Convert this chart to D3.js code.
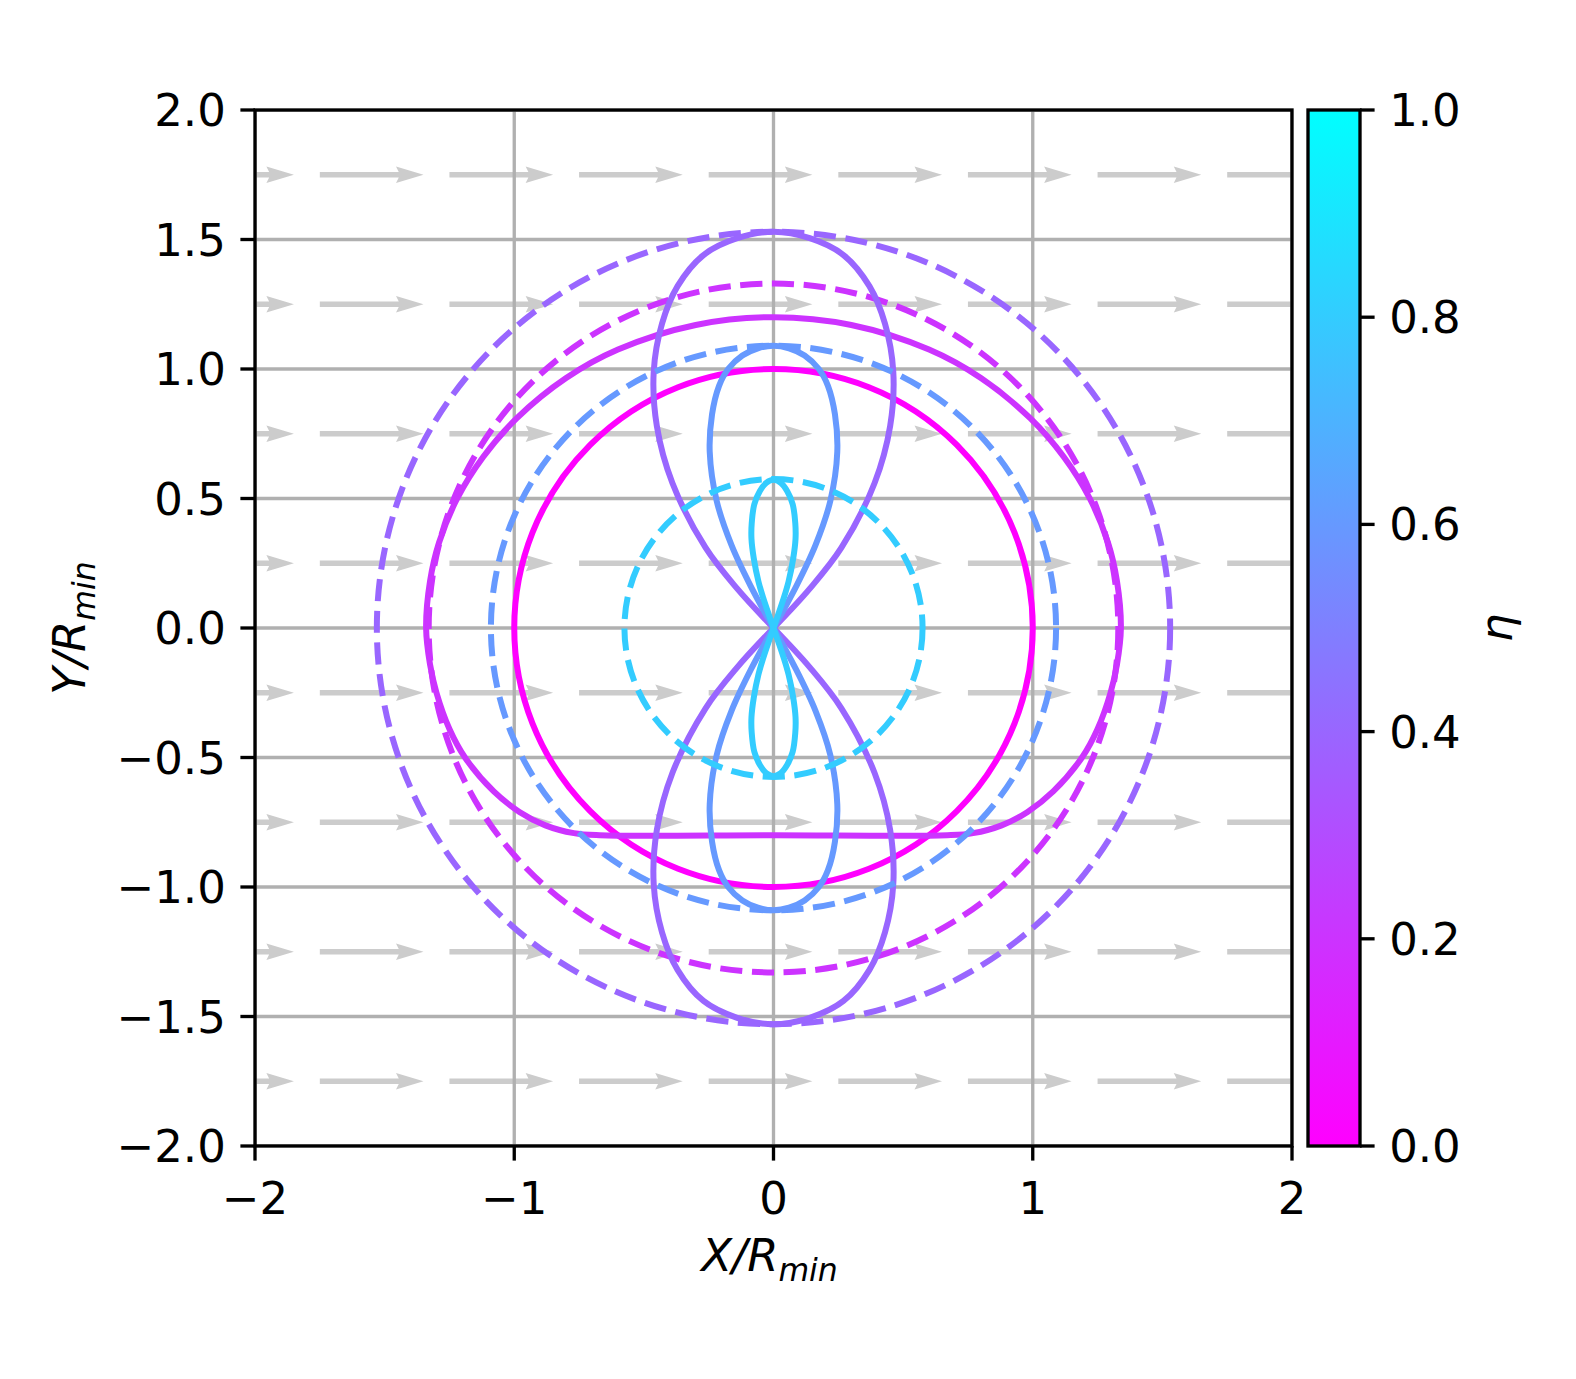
<!DOCTYPE html>
<html>
<head>
<meta charset="utf-8">
<script src="https://cdn.jsdelivr.net/npm/d3@7"></script>
<style>
  body { margin: 0; background: #ffffff; }
  text { font-family: "DejaVu Sans", sans-serif; fill: #000; }
</style>
</head>
<body>
<div id="grafico"></div>
<script>
// Datos (unidades de R_min)
const etaCirculoSolido = 0.0;
const radioCirculoSolido = 1.0;

// Círculos discontinuos para cada eta
const etaDiscontinuos = [0.2, 0.4, 0.6, 0.8];
const radiosDiscontinuos = [1.33, 1.53, 1.09, 0.575];

// Contorno sólido eta = 0.2: mitad izquierda, de arriba hacia abajo
const etaContorno = 0.2;
const contornoMitad = [
  [0, 1.2], [-0.3, 1.17], [-0.6, 1.075], [-0.8, 0.965], [-0.99, 0.81],
  [-1.12, 0.66], [-1.22, 0.5], [-1.29, 0.33], [-1.325, 0.18], [-1.34, 0],
  [-1.325, -0.14], [-1.3, -0.25], [-1.25, -0.39], [-1.19, -0.5],
  [-1.08, -0.63], [-0.98, -0.71], [-0.88, -0.762], [-0.77, -0.792],
  [-0.67, -0.8], [0, -0.8]
];

// Lóbulos: cuarto superior derecho, desde el origen hasta la punta
const etaLobulos = [0.4, 0.6, 0.8];
const loboEta04 = [
  [0, 0], [0.14, 0.152], [0.262, 0.31], [0.39, 0.56], [0.45, 0.78],
  [0.462, 0.99], [0.43, 1.175], [0.37, 1.32], [0.27, 1.44],
  [0.14, 1.505], [0, 1.53]
];
const loboEta06 = [
  [0, 0], [0.088, 0.162], [0.162, 0.32], [0.219, 0.49], [0.246, 0.68],
  [0.237, 0.825], [0.21, 0.935], [0.175, 1.0], [0.12, 1.052],
  [0.06, 1.08], [0, 1.09]
];
const loboEta08 = [
  [0, 0], [0.04, 0.117], [0.058, 0.179], [0.076, 0.268], [0.085, 0.345],
  [0.084, 0.405], [0.074, 0.478], [0.053, 0.528], [0.028, 0.56], [0, 0.572]
];

// Campo de flechas (cola de cada flecha)
const flechasX = [-2.25, -1.75, -1.25, -0.75, -0.25, 0.25, 0.75, 1.25, 1.75];
const flechasY = [1.75, 1.25, 0.75, 0.25, -0.25, -0.75, -1.25, -1.75];
const largoFlecha = 0.4;

// Marcas de los ejes
const ticksX = [-2, -1, 0, 1, 2];
const ticksY = [-2, -1.5, -1, -0.5, 0, 0.5, 1, 1.5, 2];
const ticksBarra = [0, 0.2, 0.4, 0.6, 0.8, 1.0];

// Dimensiones
const ancho = 1576, alto = 1379;
const izq = 255, der = 1292, arriba = 110, abajo = 1146;
const barraIzq = 1308, barraDer = 1360;
const fuente = 45;
const grosorLinea = 6;
const grosorEje = 3.33;
const largoTick = 14.6;

const svg = d3.select("#grafico")
  .append("svg")
  .attr("width", ancho)
  .attr("height", alto);

svg.append("rect").attr("width", ancho).attr("height", alto).attr("fill", "#ffffff");

const x = d3.scaleLinear().domain([-2, 2]).range([izq, der]);
const y = d3.scaleLinear().domain([-2, 2]).range([abajo, arriba]);
const escalaBarra = d3.scaleLinear().domain([0, 1]).range([abajo, arriba]);

// Mapa de color "cool" (magenta -> cian)
const colorEta = d3.scaleLinear().domain([0, 1]).range(["#ff00ff", "#00ffff"]);

function formatoMenos(v, dec) {
  return v.toFixed(dec).replace("-", "\u2212");
}

// Recorte al área de dibujo
const defs = svg.append("defs");
defs.append("clipPath").attr("id", "recorte")
  .append("rect")
  .attr("x", izq).attr("y", arriba)
  .attr("width", der - izq).attr("height", abajo - arriba);

const area = svg.append("g").attr("clip-path", "url(#recorte)");

// Flechas grises
const anchoAsta = 5.5;
const anchoCabeza = 3 * anchoAsta;
const largoCabeza = 5 * anchoAsta;
const ejeCabeza = 4.5 * anchoAsta;

flechasY.forEach((fy) => {
  flechasX.forEach((fx) => {
    const tx = x(fx);
    const px = x(fx + largoFlecha);
    const ty = y(fy);
    const puntos = [
      [tx, ty - anchoAsta / 2],
      [px - ejeCabeza, ty - anchoAsta / 2],
      [px - largoCabeza, ty - anchoCabeza / 2],
      [px, ty],
      [px - largoCabeza, ty + anchoCabeza / 2],
      [px - ejeCabeza, ty + anchoAsta / 2],
      [tx, ty + anchoAsta / 2]
    ];
    area.append("polygon")
      .attr("points", puntos.map(p => p.join(",")).join(" "))
      .attr("fill", "#cccccc");
  });
});

// Cuadrícula
ticksX.forEach((t) => {
  area.append("line")
    .attr("x1", x(t)).attr("x2", x(t))
    .attr("y1", arriba).attr("y2", abajo)
    .attr("stroke", "#b0b0b0").attr("stroke-width", grosorEje);
});
ticksY.forEach((t) => {
  area.append("line")
    .attr("x1", izq).attr("x2", der)
    .attr("y1", y(t)).attr("y2", y(t))
    .attr("stroke", "#b0b0b0").attr("stroke-width", grosorEje);
});

const linea = d3.line()
  .x(d => x(d[0]))
  .y(d => y(d[1]))
  .curve(d3.curveCatmullRom.alpha(0.5));

const lineaCerrada = d3.line()
  .x(d => x(d[0]))
  .y(d => y(d[1]))
  .curve(d3.curveCatmullRomClosed.alpha(0.5));

function dibujarCirculo(radio, eta, discontinuo) {
  const c = area.append("ellipse")
    .attr("cx", x(0)).attr("cy", y(0))
    .attr("rx", x(radio) - x(0))
    .attr("ry", y(0) - y(radio))
    .attr("fill", "none")
    .attr("stroke", colorEta(eta))
    .attr("stroke-width", grosorLinea);
  if (discontinuo) {
    c.attr("stroke-dasharray", "22.2,9.6");
  }
}

function dibujarLobulos(cuarto, eta) {
  const izquierda = cuarto.slice(0, -1).reverse().map(p => [-p[0], p[1]]);
  const superior = cuarto.concat(izquierda);
  const inferior = superior.map(p => [p[0], -p[1]]);
  [superior, inferior].forEach((lobo) => {
    area.append("path")
      .attr("d", linea(lobo))
      .attr("fill", "none")
      .attr("stroke", colorEta(eta))
      .attr("stroke-width", grosorLinea)
      .attr("stroke-linejoin", "round");
  });
}

// eta = 0: círculo sólido
dibujarCirculo(radioCirculoSolido, etaCirculoSolido, false);

// eta = 0.2: contorno sólido y círculo discontinuo
const derecha = contornoMitad.slice(1, -1).reverse().map(p => [-p[0], p[1]]);
area.append("path")
  .attr("d", lineaCerrada(contornoMitad.concat(derecha)))
  .attr("fill", "none")
  .attr("stroke", colorEta(etaContorno))
  .attr("stroke-width", grosorLinea);

const lobulos = [loboEta04, loboEta06, loboEta08];

etaDiscontinuos.forEach((eta, i) => {
  dibujarCirculo(radiosDiscontinuos[i], eta, true);
  const k = etaLobulos.indexOf(eta);
  if (k >= 0) {
    dibujarLobulos(lobulos[k], eta);
  }
});

// Bordes del área
svg.append("rect")
  .attr("x", izq).attr("y", arriba)
  .attr("width", der - izq).attr("height", abajo - arriba)
  .attr("fill", "none")
  .attr("stroke", "#000").attr("stroke-width", grosorEje);

// Marcas del eje X
ticksX.forEach((t) => {
  svg.append("line")
    .attr("x1", x(t)).attr("x2", x(t))
    .attr("y1", abajo).attr("y2", abajo + largoTick)
    .attr("stroke", "#000").attr("stroke-width", grosorEje);
  svg.append("text")
    .attr("x", x(t)).attr("y", 1214)
    .attr("text-anchor", "middle")
    .attr("font-size", fuente)
    .text(formatoMenos(t, 0));
});

// Marcas del eje Y
ticksY.forEach((t) => {
  svg.append("line")
    .attr("x1", izq - largoTick).attr("x2", izq)
    .attr("y1", y(t)).attr("y2", y(t))
    .attr("stroke", "#000").attr("stroke-width", grosorEje);
  svg.append("text")
    .attr("x", izq - largoTick - 14.6).attr("y", y(t) + 16)
    .attr("text-anchor", "end")
    .attr("font-size", fuente)
    .text(formatoMenos(t, 1));
});

// Etiquetas de los ejes
const etiquetaX = svg.append("text")
  .attr("x", x(0) - 4).attr("y", 1271)
  .attr("text-anchor", "middle")
  .attr("font-size", fuente)
  .attr("font-style", "italic");
etiquetaX.append("tspan").text("X/R");
etiquetaX.append("tspan").attr("font-size", fuente * 0.7).attr("dy", 10).text("min");

const etiquetaY = svg.append("text")
  .attr("transform", `translate(85,${y(0)}) rotate(-90)`)
  .attr("text-anchor", "middle")
  .attr("font-size", fuente)
  .attr("font-style", "italic");
etiquetaY.append("tspan").text("Y/R");
etiquetaY.append("tspan").attr("font-size", fuente * 0.7).attr("dy", 10).text("min");

// Barra de color
const gradiente = defs.append("linearGradient")
  .attr("id", "gradienteCool")
  .attr("x1", 0).attr("y1", 1).attr("x2", 0).attr("y2", 0);
ticksBarra.forEach((t) => {
  gradiente.append("stop")
    .attr("offset", t)
    .attr("stop-color", colorEta(t));
});

svg.append("rect")
  .attr("x", barraIzq).attr("y", escalaBarra(1))
  .attr("width", barraDer - barraIzq)
  .attr("height", escalaBarra(0) - escalaBarra(1))
  .attr("fill", "url(#gradienteCool)")
  .attr("stroke", "#000").attr("stroke-width", grosorEje);

ticksBarra.forEach((t) => {
  svg.append("line")
    .attr("x1", barraDer).attr("x2", barraDer + largoTick)
    .attr("y1", escalaBarra(t)).attr("y2", escalaBarra(t))
    .attr("stroke", "#000").attr("stroke-width", grosorEje);
  svg.append("text")
    .attr("x", barraDer + largoTick + 14.6).attr("y", escalaBarra(t) + 16)
    .attr("text-anchor", "start")
    .attr("font-size", fuente)
    .text(t.toFixed(1));
});

svg.append("text")
  .attr("transform", `translate(1512,${escalaBarra(0.5)}) rotate(-90)`)
  .attr("text-anchor", "middle")
  .attr("font-size", fuente)
  .attr("font-style", "italic")
  .text("η");
</script>
</body>
</html>
